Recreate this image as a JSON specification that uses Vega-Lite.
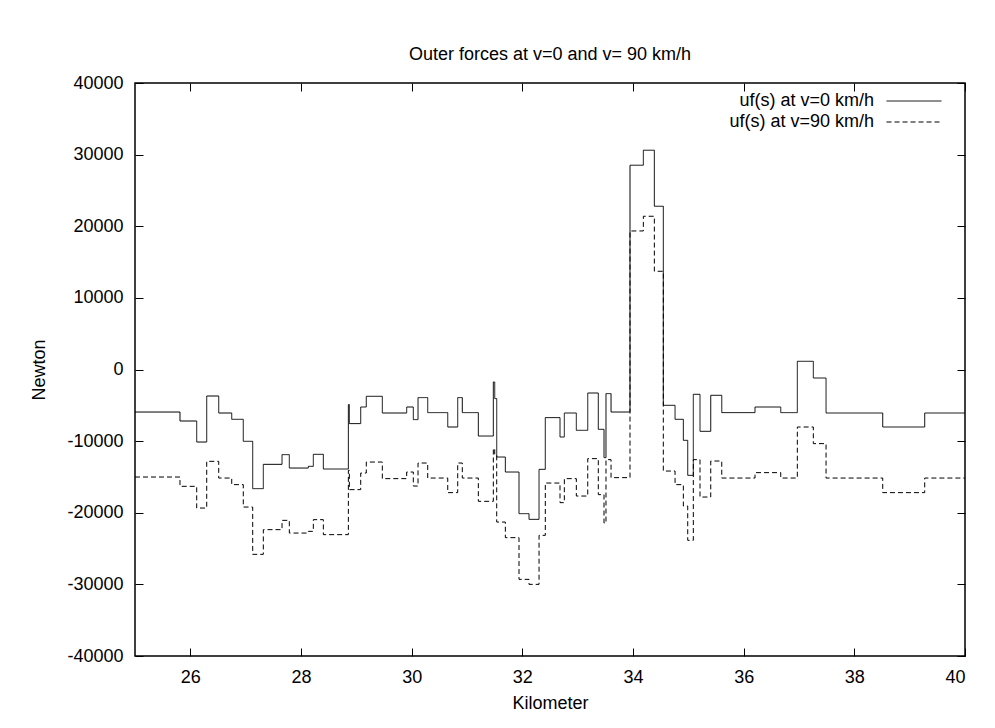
{
  "$schema": "https://vega.github.io/schema/vega-lite/v6.json",
  "autosize": {"type": "none"},
  "width": 830,
  "height": 573,
  "padding": {"left": 135, "top": 83, "right": 30, "bottom": 72},
  "background": "white",
  "title": {
    "text": "Outer forces at v=0 and v= 90 km/h",
    "font": "Liberation Sans",
    "fontSize": 18,
    "fontWeight": "normal",
    "color": "black",
    "anchor": "middle",
    "frame": "group",
    "baseline": "alphabetic",
    "offset": 24,
    "dy": 28
  },
  "config": {
    "view": {"stroke": "black", "strokeWidth": 1.5},
    "font": "Liberation Sans",
    "axis": {
      "domain": false,
      "grid": false,
      "tickColor": "black",
      "tickSize": -8,
      "tickWidth": 1,
      "labelFont": "Liberation Sans",
      "labelFontSize": 18,
      "labelColor": "black",
      "labelExpr": "'' + datum.value",
      "titleFont": "Liberation Sans",
      "titleFontSize": 18,
      "titleFontWeight": "normal",
      "titleColor": "black"
    }
  },
  "data": {
    "values": [
      {"k": 25.000, "f": -5936, "s": "uf(s) at v=0 km/h"},
      {"k": 25.813, "f": -7192, "s": "uf(s) at v=0 km/h"},
      {"k": 26.115, "f": -10125, "s": "uf(s) at v=0 km/h"},
      {"k": 26.296, "f": -3701, "s": "uf(s) at v=0 km/h"},
      {"k": 26.513, "f": -6075, "s": "uf(s) at v=0 km/h"},
      {"k": 26.748, "f": -6955, "s": "uf(s) at v=0 km/h"},
      {"k": 26.957, "f": -10028, "s": "uf(s) at v=0 km/h"},
      {"k": 27.127, "f": -16634, "s": "uf(s) at v=0 km/h"},
      {"k": 27.319, "f": -13240, "s": "uf(s) at v=0 km/h"},
      {"k": 27.657, "f": -11885, "s": "uf(s) at v=0 km/h"},
      {"k": 27.789, "f": -13757, "s": "uf(s) at v=0 km/h"},
      {"k": 28.133, "f": -13519, "s": "uf(s) at v=0 km/h"},
      {"k": 28.223, "f": -11843, "s": "uf(s) at v=0 km/h"},
      {"k": 28.404, "f": -13896, "s": "uf(s) at v=0 km/h"},
      {"k": 28.856, "f": -4902, "s": "uf(s) at v=0 km/h"},
      {"k": 28.874, "f": -7556, "s": "uf(s) at v=0 km/h"},
      {"k": 29.079, "f": -5237, "s": "uf(s) at v=0 km/h"},
      {"k": 29.180, "f": -3743, "s": "uf(s) at v=0 km/h"},
      {"k": 29.470, "f": -6075, "s": "uf(s) at v=0 km/h"},
      {"k": 29.910, "f": -5237, "s": "uf(s) at v=0 km/h"},
      {"k": 30.030, "f": -6997, "s": "uf(s) at v=0 km/h"},
      {"k": 30.115, "f": -3924, "s": "uf(s) at v=0 km/h"},
      {"k": 30.290, "f": -6019, "s": "uf(s) at v=0 km/h"},
      {"k": 30.652, "f": -8030, "s": "uf(s) at v=0 km/h"},
      {"k": 30.832, "f": -3924, "s": "uf(s) at v=0 km/h"},
      {"k": 30.915, "f": -6019, "s": "uf(s) at v=0 km/h"},
      {"k": 31.205, "f": -9287, "s": "uf(s) at v=0 km/h"},
      {"k": 31.476, "f": -1746, "s": "uf(s) at v=0 km/h"},
      {"k": 31.501, "f": -4064, "s": "uf(s) at v=0 km/h"},
      {"k": 31.537, "f": -12220, "s": "uf(s) at v=0 km/h"},
      {"k": 31.693, "f": -14315, "s": "uf(s) at v=0 km/h"},
      {"k": 31.940, "f": -20125, "s": "uf(s) at v=0 km/h"},
      {"k": 32.121, "f": -20921, "s": "uf(s) at v=0 km/h"},
      {"k": 32.302, "f": -13938, "s": "uf(s) at v=0 km/h"},
      {"k": 32.415, "f": -6718, "s": "uf(s) at v=0 km/h"},
      {"k": 32.681, "f": -9427, "s": "uf(s) at v=0 km/h"},
      {"k": 32.759, "f": -6075, "s": "uf(s) at v=0 km/h"},
      {"k": 32.976, "f": -8491, "s": "uf(s) at v=0 km/h"},
      {"k": 33.182, "f": -3282, "s": "uf(s) at v=0 km/h"},
      {"k": 33.373, "f": -8352, "s": "uf(s) at v=0 km/h"},
      {"k": 33.476, "f": -12304, "s": "uf(s) at v=0 km/h"},
      {"k": 33.512, "f": -3366, "s": "uf(s) at v=0 km/h"},
      {"k": 33.603, "f": -5936, "s": "uf(s) at v=0 km/h"},
      {"k": 33.946, "f": 28519, "s": "uf(s) at v=0 km/h"},
      {"k": 34.187, "f": 30613, "s": "uf(s) at v=0 km/h"},
      {"k": 34.386, "f": 22792, "s": "uf(s) at v=0 km/h"},
      {"k": 34.548, "f": -5000, "s": "uf(s) at v=0 km/h"},
      {"k": 34.760, "f": -6955, "s": "uf(s) at v=0 km/h"},
      {"k": 34.910, "f": -9888, "s": "uf(s) at v=0 km/h"},
      {"k": 34.989, "f": -14776, "s": "uf(s) at v=0 km/h"},
      {"k": 35.090, "f": -3464, "s": "uf(s) at v=0 km/h"},
      {"k": 35.211, "f": -8631, "s": "uf(s) at v=0 km/h"},
      {"k": 35.405, "f": -3603, "s": "uf(s) at v=0 km/h"},
      {"k": 35.604, "f": -6019, "s": "uf(s) at v=0 km/h"},
      {"k": 36.205, "f": -5237, "s": "uf(s) at v=0 km/h"},
      {"k": 36.670, "f": -6019, "s": "uf(s) at v=0 km/h"},
      {"k": 36.970, "f": 1145, "s": "uf(s) at v=0 km/h"},
      {"k": 37.259, "f": -1187, "s": "uf(s) at v=0 km/h"},
      {"k": 37.489, "f": -6075, "s": "uf(s) at v=0 km/h"},
      {"k": 38.513, "f": -8030, "s": "uf(s) at v=0 km/h"},
      {"k": 39.272, "f": -6075, "s": "uf(s) at v=0 km/h"},
      {"k": 40.000, "f": -6075, "s": "uf(s) at v=0 km/h"},
      {"k": 25.000, "f": -15013, "s": "uf(s) at v=90 km/h"},
      {"k": 25.813, "f": -16312, "s": "uf(s) at v=90 km/h"},
      {"k": 26.115, "f": -19343, "s": "uf(s) at v=90 km/h"},
      {"k": 26.296, "f": -12821, "s": "uf(s) at v=90 km/h"},
      {"k": 26.513, "f": -15153, "s": "uf(s) at v=90 km/h"},
      {"k": 26.748, "f": -16075, "s": "uf(s) at v=90 km/h"},
      {"k": 26.957, "f": -19203, "s": "uf(s) at v=90 km/h"},
      {"k": 27.127, "f": -25809, "s": "uf(s) at v=90 km/h"},
      {"k": 27.319, "f": -22360, "s": "uf(s) at v=90 km/h"},
      {"k": 27.657, "f": -21061, "s": "uf(s) at v=90 km/h"},
      {"k": 27.789, "f": -22834, "s": "uf(s) at v=90 km/h"},
      {"k": 28.133, "f": -22597, "s": "uf(s) at v=90 km/h"},
      {"k": 28.223, "f": -20963, "s": "uf(s) at v=90 km/h"},
      {"k": 28.404, "f": -23058, "s": "uf(s) at v=90 km/h"},
      {"k": 28.856, "f": -14078, "s": "uf(s) at v=90 km/h"},
      {"k": 28.874, "f": -16773, "s": "uf(s) at v=90 km/h"},
      {"k": 29.079, "f": -14455, "s": "uf(s) at v=90 km/h"},
      {"k": 29.180, "f": -12919, "s": "uf(s) at v=90 km/h"},
      {"k": 29.470, "f": -15237, "s": "uf(s) at v=90 km/h"},
      {"k": 29.910, "f": -14315, "s": "uf(s) at v=90 km/h"},
      {"k": 30.030, "f": -16270, "s": "uf(s) at v=90 km/h"},
      {"k": 30.115, "f": -13058, "s": "uf(s) at v=90 km/h"},
      {"k": 30.290, "f": -15153, "s": "uf(s) at v=90 km/h"},
      {"k": 30.652, "f": -17192, "s": "uf(s) at v=90 km/h"},
      {"k": 30.832, "f": -13058, "s": "uf(s) at v=90 km/h"},
      {"k": 30.915, "f": -15153, "s": "uf(s) at v=90 km/h"},
      {"k": 31.205, "f": -18407, "s": "uf(s) at v=90 km/h"},
      {"k": 31.476, "f": -11047, "s": "uf(s) at v=90 km/h"},
      {"k": 31.501, "f": -11983, "s": "uf(s) at v=90 km/h"},
      {"k": 31.537, "f": -21298, "s": "uf(s) at v=90 km/h"},
      {"k": 31.693, "f": -23477, "s": "uf(s) at v=90 km/h"},
      {"k": 31.940, "f": -29301, "s": "uf(s) at v=90 km/h"},
      {"k": 32.121, "f": -29999, "s": "uf(s) at v=90 km/h"},
      {"k": 32.302, "f": -23156, "s": "uf(s) at v=90 km/h"},
      {"k": 32.415, "f": -15851, "s": "uf(s) at v=90 km/h"},
      {"k": 32.681, "f": -18589, "s": "uf(s) at v=90 km/h"},
      {"k": 32.759, "f": -15237, "s": "uf(s) at v=90 km/h"},
      {"k": 32.976, "f": -17667, "s": "uf(s) at v=90 km/h"},
      {"k": 33.182, "f": -12444, "s": "uf(s) at v=90 km/h"},
      {"k": 33.373, "f": -17472, "s": "uf(s) at v=90 km/h"},
      {"k": 33.476, "f": -21438, "s": "uf(s) at v=90 km/h"},
      {"k": 33.512, "f": -12583, "s": "uf(s) at v=90 km/h"},
      {"k": 33.603, "f": -15097, "s": "uf(s) at v=90 km/h"},
      {"k": 33.946, "f": 19343, "s": "uf(s) at v=90 km/h"},
      {"k": 34.187, "f": 21396, "s": "uf(s) at v=90 km/h"},
      {"k": 34.386, "f": 13715, "s": "uf(s) at v=90 km/h"},
      {"k": 34.548, "f": -14176, "s": "uf(s) at v=90 km/h"},
      {"k": 34.760, "f": -16075, "s": "uf(s) at v=90 km/h"},
      {"k": 34.910, "f": -19064, "s": "uf(s) at v=90 km/h"},
      {"k": 34.989, "f": -23854, "s": "uf(s) at v=90 km/h"},
      {"k": 35.090, "f": -12583, "s": "uf(s) at v=90 km/h"},
      {"k": 35.211, "f": -17807, "s": "uf(s) at v=90 km/h"},
      {"k": 35.405, "f": -12779, "s": "uf(s) at v=90 km/h"},
      {"k": 35.604, "f": -15153, "s": "uf(s) at v=90 km/h"},
      {"k": 36.205, "f": -14399, "s": "uf(s) at v=90 km/h"},
      {"k": 36.670, "f": -15153, "s": "uf(s) at v=90 km/h"},
      {"k": 36.970, "f": -8030, "s": "uf(s) at v=90 km/h"},
      {"k": 37.259, "f": -10349, "s": "uf(s) at v=90 km/h"},
      {"k": 37.489, "f": -15153, "s": "uf(s) at v=90 km/h"},
      {"k": 38.513, "f": -17192, "s": "uf(s) at v=90 km/h"},
      {"k": 39.272, "f": -15153, "s": "uf(s) at v=90 km/h"},
      {"k": 40.000, "f": -15153, "s": "uf(s) at v=90 km/h"}
    ]
  },
  "layer": [
    {
      "mark": {"type": "line", "interpolate": "step-after", "color": "black", "strokeWidth": 1, "clip": true},
      "encoding": {
        "x": {
          "field": "k", "type": "quantitative",
          "scale": {"domain": [25, 40], "nice": false, "zero": false},
          "axis": {"title": "Kilometer", "values": [26, 28, 30, 32, 34, 36, 38, 40], "labelPadding": 20, "titlePadding": 8}
        },
        "y": {
          "field": "f", "type": "quantitative",
          "scale": {"domain": [-40000, 40000], "nice": false},
          "axis": {"title": "Newton", "values": [-40000, -30000, -20000, -10000, 0, 10000, 20000, 30000, 40000], "labelPadding": 20, "titlePadding": 18}
        },
        "strokeDash": {
          "field": "s", "type": "nominal",
          "scale": {"domain": ["uf(s) at v=0 km/h", "uf(s) at v=90 km/h"], "range": [[1, 0], [5, 3]]},
          "legend": {
            "title": null,
            "orient": "none",
            "legendX": 770,
            "legendY": 9,
            "symbolType": "M-5,0H5",
            "symbolSize": 121,
            "symbolStrokeWidth": 1,
            "symbolStrokeColor": "black",
            "symbolFillColor": "transparent",
            "labelAlign": "right",
            "labelOffset": -49,
            "labelFontSize": 18,
            "labelFont": "Liberation Sans",
            "labelColor": "black",
            "rowPadding": 3,
            "padding": 0
          }
        }
      }
    },
    {
      "mark": {"type": "point", "opacity": 0},
      "encoding": {
        "x": {
          "field": "k", "type": "quantitative",
          "axis": {"orient": "top", "title": null, "labels": false, "values": [26, 28, 30, 32, 34, 36, 38, 40]}
        },
        "y": {
          "field": "f", "type": "quantitative",
          "axis": {"orient": "right", "title": null, "labels": false, "values": [-40000, -30000, -20000, -10000, 0, 10000, 20000, 30000, 40000]}
        }
      }
    }
  ],
  "resolve": {"axis": {"x": "independent", "y": "independent"}}
}
